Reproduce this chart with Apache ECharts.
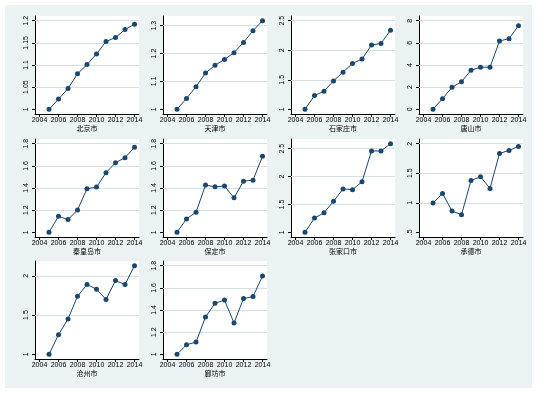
<!DOCTYPE html>
<html><head><meta charset="utf-8">
<script src="https://cdn.jsdelivr.net/npm/echarts@6/dist/echarts.min.js"></script>
<style>html,body{margin:0;padding:0;background:#fff}#c{width:538px;height:393px}</style>
</head><body><div id="c"></div>
<script>
const years = [2005, 2006, 2007, 2008, 2009, 2010, 2011, 2012, 2013, 2014];
const xTicks = [2004, 2006, 2008, 2010, 2012, 2014];
const cities = ['北京市', '天津市', '石家庄市', '唐山市', '秦皇岛市', '保定市', '张家口市', '承德市', '沧州市', '廊坊市'];
const beijing = [1.0, 1.023, 1.047, 1.080, 1.101, 1.125, 1.153, 1.162, 1.180, 1.192];
const tianjin = [1.0, 1.039, 1.081, 1.130, 1.158, 1.179, 1.203, 1.240, 1.282, 1.318];
const shijiazhuang = [1.0, 1.232, 1.306, 1.481, 1.629, 1.776, 1.850, 2.087, 2.116, 2.337];
const tangshan = [0.0, 0.96, 1.98, 2.49, 3.53, 3.80, 3.80, 6.17, 6.38, 7.54];
const qinhuangdao = [1.0, 1.145, 1.115, 1.202, 1.393, 1.408, 1.538, 1.628, 1.674, 1.767];
const baoding = [1.0, 1.121, 1.181, 1.426, 1.411, 1.417, 1.311, 1.462, 1.471, 1.686];
const zhangjiakou = [1.0, 1.255, 1.350, 1.557, 1.777, 1.765, 1.907, 2.458, 2.458, 2.589];
const chengde = [0.994, 1.158, 0.859, 0.797, 1.378, 1.440, 1.243, 1.835, 1.886, 1.953];
const cangzhou = [1.0, 1.25, 1.45, 1.74, 1.89, 1.83, 1.70, 1.94, 1.89, 2.13];
const langfang = [1.0, 1.086, 1.11, 1.336, 1.461, 1.49, 1.283, 1.503, 1.521, 1.706];
const yTicks = [
  [1, 1.05, 1.1, 1.15, 1.2],
  [1, 1.1, 1.2, 1.3],
  [1, 1.5, 2, 2.5],
  [0, 2, 4, 6, 8],
  [1, 1.2, 1.4, 1.6, 1.8],
  [1, 1.2, 1.4, 1.6, 1.8],
  [1, 1.5, 2, 2.5],
  [0.5, 1, 1.5, 2],
  [1, 1.5, 2],
  [1, 1.2, 1.4, 1.6, 1.8]
];
const seriesData = [beijing, tianjin, shijiazhuang, tangshan, qinhuangdao, baoding, zhangjiakou, chengde, cangzhou, langfang];

const colLeft = [35, 163, 291, 419];
const rowTop = [16, 139, 261];
const W = 104, H = 98, PAD_Y = 4.7, PAD_X = 4.5;
const NAVY = '#1a476f';
const FONT = 'Liberation Sans, Arial, sans-serif';

const grids = [], xAxes = [], yAxes = [], series = [];
function fmt(v) { let s = String(+v.toFixed(4)); if (s.startsWith('0.')) s = s.slice(1); return s; }

cities.forEach((name, i) => {
  const col = i % 4, row = Math.floor(i / 4);
  grids.push({ left: colLeft[col], top: rowTop[row], width: W, height: H, show: true, backgroundColor: '#ffffff', borderWidth: 0 });
  const d = seriesData[i], t = yTicks[i];
  const lo = Math.min(t[0], ...d), hi = Math.max(t[t.length - 1], ...d);
  const uy = (hi - lo) / (H - 2 * PAD_Y);
  const ux = (2014 - 2004) / (W - 2 * PAD_X);
  xAxes.push({
    gridIndex: i, type: 'value', min: 2004 - PAD_X * ux, max: 2014 + PAD_X * ux,
    name: name, nameLocation: 'middle', nameGap: 10,
    nameTextStyle: { fontFamily: 'Noto Sans CJK SC', fontSize: 7, color: '#000' },
    axisLine: { show: true, onZero: false, lineStyle: { color: '#000', width: 1 } },
    axisTick: { show: true, length: 3, customValues: xTicks, lineStyle: { color: '#000' } },
    axisLabel: { customValues: xTicks, fontSize: 7, fontFamily: FONT, color: '#000', margin: 3, formatter: v => String(v) },
    splitLine: { show: false }
  });
  yAxes.push({
    gridIndex: i, type: 'value', min: lo - PAD_Y * uy, max: hi + PAD_Y * uy,
    axisLine: { show: true, onZero: false, lineStyle: { color: '#000', width: 1 } },
    axisTick: { show: true, length: 3, customValues: t, lineStyle: { color: '#000' } },
    axisLabel: { customValues: t, rotate: 90, fontSize: 7, fontFamily: FONT, color: '#000', margin: 5, formatter: v => fmt(v) },
    splitLine: { show: false }
  });
  series.push({
    type: 'line', xAxisIndex: i, yAxisIndex: i,
    data: years.map((y, k) => [y, d[k]]),
    symbol: 'circle', symbolSize: 5, showSymbol: true,
    itemStyle: { color: NAVY }, lineStyle: { color: NAVY, width: 1 },
    animation: false, silent: true,
    markLine: {
      silent: true, symbol: 'none', label: { show: false },
      lineStyle: { color: '#d6e0e4', width: 1, type: 'solid' },
      data: t.slice(1).map(v => ({ yAxis: v })),
      animation: false, z: 1
    },
    z: 3
  });
});

const chart = echarts.init(document.getElementById('c'), null, { renderer: 'canvas' });
chart.setOption({
  backgroundColor: '#ffffff',
  animation: false,
  graphic: [{ type: 'rect', shape: { x: 5, y: 5, width: 527, height: 383 }, style: { fill: '#eaf2f3' }, z: -10, silent: true }],
  grid: grids, xAxis: xAxes, yAxis: yAxes, series: series
});
</script></body></html>
